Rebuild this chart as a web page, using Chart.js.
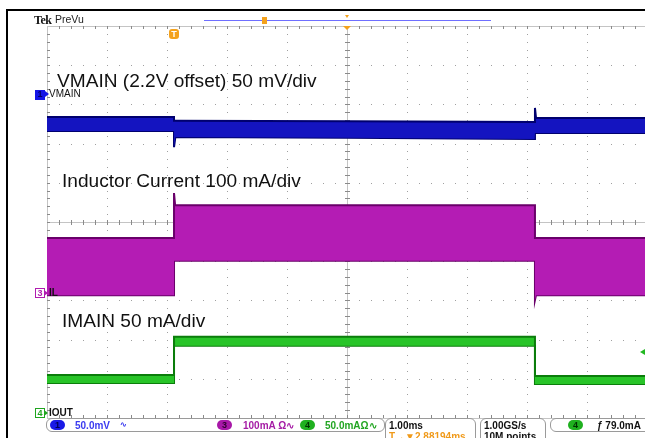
<!DOCTYPE html>
<html>
<head>
<meta charset="utf-8">
<script src="https://cdn.jsdelivr.net/npm/chart.js@4.4.1/dist/chart.umd.min.js"></script>
<style>
body{margin:0;background:#fff;font-family:"Liberation Sans",Arial,sans-serif}
#scope{position:relative;width:645px;height:438px;overflow:hidden;background:#fff}
#scope canvas{position:absolute;left:0;top:0}
.t{position:absolute;white-space:nowrap;line-height:1}
.big{font-size:19.1px;color:#111}
.sm{font-size:10px;font-weight:bold}
.box{position:absolute;top:418px;height:14px;border:1px solid #9a9a9a;border-radius:6px;box-sizing:border-box}
.pill{position:absolute;top:420px;width:15px;height:10px;border-radius:5px;font:bold 9px "Liberation Sans",Arial,sans-serif;text-align:center;line-height:10px;color:#111}
.mk{position:absolute;width:10px;height:10px;box-sizing:border-box;font:bold 9px "Liberation Sans",Arial,sans-serif;text-align:center;line-height:9px}
.mk:after{content:"";position:absolute;right:-4px;top:1px;border-left:4px solid currentColor;border-top:3.5px solid transparent;border-bottom:3.5px solid transparent}
</style>
</head>
<body>
<div id="scope">
<canvas id="scopeChart" width="645" height="438"></canvas>

<div style="position:absolute;left:6px;top:9px;width:639px;height:2px;background:#000"></div>
<div style="position:absolute;left:6px;top:9px;width:2px;height:429px;background:#000"></div>

<div class="t" style="left:34px;top:13px;font:bold 12px 'Liberation Serif',serif;color:#111;letter-spacing:-0.5px">Tek</div>
<div class="t" style="left:55px;top:14px;font-size:10.5px;color:#222">PreVu</div>
<div style="position:absolute;left:204px;top:20px;width:287px;height:1px;background:#6f6fff"></div>
<div style="position:absolute;left:262px;top:17px;width:5px;height:7px;background:#f4a21c"></div>
<div style="position:absolute;left:345px;top:15px;border-top:3px solid #f4a21c;border-left:2.5px solid transparent;border-right:2.5px solid transparent"></div>
<div style="position:absolute;left:343px;top:26px;border-top:4px solid #f4a21c;border-left:4px solid transparent;border-right:4px solid transparent"></div>
<div class="t" style="left:169px;top:29px;width:10px;height:10px;border-radius:3px;background:#f4a21c;color:#fff;font:bold 9px 'Liberation Sans',sans-serif;text-align:center;line-height:10px">T</div>

<div class="t big" style="left:57px;top:70.8px">VMAIN (2.2V offset) 50 mV/div</div>
<div class="t big" style="left:62px;top:171.3px">Inductor Current 100 mA/div</div>
<div class="t big" style="left:62px;top:310.8px">IMAIN 50 mA/div</div>

<div class="mk" style="left:35px;top:90px;background:#1414e6;color:#1414e6"><span style="color:#000066">1</span></div>
<div class="t" style="left:49px;top:89px;font-size:10px;color:#111">VMAIN</div>
<div class="mk" style="left:35px;top:288px;border:1px solid #b01cb0;color:#b01cb0;background:#fff">3</div>
<div class="t" style="left:49px;top:288px;font-size:10px;font-weight:bold;color:#111">IL</div>
<div class="mk" style="left:35px;top:408px;border:1px solid #1fa51f;color:#1fa51f;background:#fff">4</div>
<div class="t" style="left:49px;top:408px;font-size:10px;font-weight:bold;color:#111">IOUT</div>
<div style="position:absolute;left:640px;top:349px;border-right:5px solid #22b822;border-top:3.5px solid transparent;border-bottom:3.5px solid transparent"></div>

<div class="box" style="left:46px;width:339px"></div>
<div class="pill" style="left:50px;background:#1a1ae6;color:#000055">1</div>
<div class="t sm" style="left:75px;top:421px;color:#3a3af0">50.0mV</div>
<div class="t sm" style="left:120px;top:421px;color:#3a3af0;font-size:8px">&#x223F;</div>
<div class="pill" style="left:217px;background:#a818a8;color:#300030">3</div>
<div class="t sm" style="left:243px;top:421px;color:#a51ca5">100mA &#x3A9;&#x223F;</div>
<div class="pill" style="left:300px;background:#1fb01f;color:#003300">4</div>
<div class="t sm" style="left:325px;top:421px;color:#22a522">50.0mA&#x3A9;&#x223F;</div>
<div class="box" style="left:385px;width:91px;height:30px"></div>
<div class="t sm" style="left:389px;top:421px;color:#111">1.00ms</div>
<div class="t sm" style="left:389px;top:432px;color:#f09a1a">T&#x2192;&#x25BC;2.88194ms</div>
<div class="box" style="left:480px;width:66px;height:30px"></div>
<div class="t sm" style="left:484px;top:421px;color:#111">1.00GS/s</div>
<div class="t sm" style="left:484px;top:432px;color:#111">10M points</div>
<div class="box" style="left:550px;width:110px"></div>
<div class="pill" style="left:568px;background:#1fb01f;color:#003300">4</div>
<div class="t sm" style="left:597px;top:421px;color:#111">&#x0192; 79.0mA</div>
</div>

<script>
// time axis in divisions (1.00 ms/div), vertical in divisions
const blueX=[0,2.10,2.117,2.117,2.14,5.0,8.12,8.133,8.133,8.15,9.967];
const blueHi=[2.68,2.68,2.68,2.58,2.58,2.57,2.55,2.55,2.91,2.66,2.65];
const blueLo=[2.32,2.32,2.32,1.91,2.17,2.15,2.12,2.12,2.27,2.27,2.27];

const ilX=[0,2.117,2.117,2.135,8.133,8.133,8.15,9.967];
const ilHi=[-0.41,-0.41,0.74,0.43,0.43,-0.41,-0.41,-0.41];
const ilLo=[-1.87,-1.87,-0.99,-0.99,-0.99,-1.99,-1.87,-1.87];

const ioX=[0,2.117,2.117,8.133,8.133,9.967];
const ioHi=[-3.90,-3.90,-2.93,-2.93,-3.93,-3.93];
const ioLo=[-4.11,-4.11,-3.16,-3.16,-4.13,-4.13];

function pts(xs,ys){
    return xs.map((x,i)=>({x,y:ys[i]}));
}

function band(xs,hi,lo,edge,fillColor){
    return [
        {data:pts(xs,hi),borderColor:edge,borderWidth:2,backgroundColor:fillColor,fill:"+1"},
        {data:pts(xs,lo),borderColor:edge,borderWidth:2,fill:false}
    ];
}

const scopeGrid={
    id:"scopeGrid",
    beforeDatasetsDraw(chart){
        const {ctx,chartArea:a,scales:{x,y}}=chart;
        ctx.save();
        ctx.fillStyle="#a0a0a0";
        for(let i=1;i<=9;i++){
            if(i===5) continue;
            const px=Math.round(x.getPixelForValue(i));
            for(let k=1;k<50;k++){
                const py=Math.round(y.getPixelForValue(-5+k*0.2));
                ctx.fillRect(px,py,1,1);
            }
        }
        for(let j=-4;j<=4;j++){
            if(j===0) continue;
            const py=Math.round(y.getPixelForValue(j));
            for(let k=1;k<50;k++){
                const px=Math.round(x.getPixelForValue(k*0.2));
                ctx.fillRect(px,py,1,1);
            }
        }
        // centre cross and border
        ctx.fillStyle="#c4c4c4";
        const cx=Math.round(x.getPixelForValue(5));
        const cy=Math.round(y.getPixelForValue(0));
        ctx.fillRect(cx,a.top,1,a.bottom-a.top);
        ctx.fillRect(a.left,cy,a.right-a.left,1);
        ctx.fillRect(a.left,a.top,1,a.bottom-a.top);
        ctx.fillRect(a.left,a.top,a.right-a.left,1);
        ctx.fillRect(a.left,a.bottom,a.right-a.left,1);
        ctx.fillStyle="#8a8a8a";
        for(let k=1;k<50;k++){
            const py=Math.round(y.getPixelForValue(-5+k*0.2));
            const px=Math.round(x.getPixelForValue(k*0.2));
            ctx.fillRect(cx-2,py,5,1);
            ctx.fillRect(px,cy-2,1,5);
            ctx.fillRect(a.left,py,3,1);
            ctx.fillRect(px,a.top,1,3);
            ctx.fillRect(px,a.bottom-3,1,3);
        }
        ctx.restore();
    }
};

new Chart(document.getElementById("scopeChart"),{
    type:"line",
    data:{
        datasets:[
            ...band(blueX,blueHi,blueLo,"#00006e","#1414c0"),
            ...band(ilX,ilHi,ilLo,"#6a006a","#b41cb4"),
            ...band(ioX,ioHi,ioLo,"#0b7d0b","#28c428")
        ]
    },
    options:{
        responsive:false,
        animation:false,
        layout:{padding:{left:47,top:26,right:0,bottom:20}},
        elements:{point:{radius:0},line:{tension:0}},
        plugins:{legend:{display:false},tooltip:{enabled:false}},
        scales:{
            x:{type:"linear",min:0,max:9.967,display:false},
            y:{type:"linear",min:-5,max:5,display:false}
        }
    },
    plugins:[scopeGrid]
});
</script>
</body>
</html>
